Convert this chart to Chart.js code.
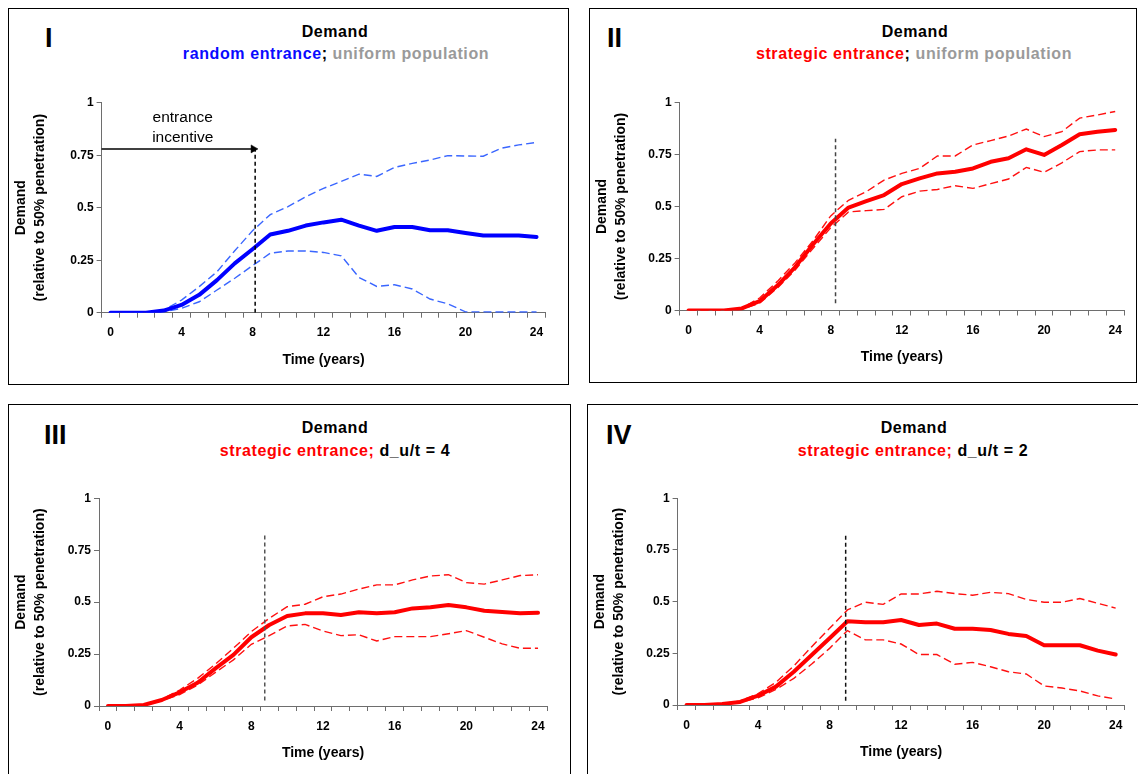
<!DOCTYPE html>
<html><head><meta charset="utf-8">
<script src="https://cdn.jsdelivr.net/npm/chart.js@4.4.0/dist/chart.umd.min.js"></script>
<style>
body{margin:0;width:1138px;height:774px;overflow:hidden;background:#fff;position:relative;font-family:"Liberation Sans",Arial,sans-serif;}
.box{position:absolute;border:1px solid #000;box-sizing:border-box;}
canvas{position:absolute;}
.num{position:absolute;font-weight:bold;font-size:27px;line-height:27px;white-space:nowrap;}
.t{position:absolute;font-weight:bold;font-size:16px;line-height:16px;white-space:nowrap;transform:translateX(-50%);letter-spacing:0.6px;}
.blue{color:#0a0aff}.gray{color:#9a9a9a}.red{color:#ff0000}.blk{color:#000}
</style></head><body>
<div class="box" style="left:8px;top:8px;width:561px;height:377px"></div>
<div class="box" style="left:589px;top:8px;width:548px;height:375px"></div>
<div class="box" style="left:8px;top:404px;width:563px;height:390px"></div>
<div class="box" style="left:587px;top:404px;width:570px;height:390px"></div>

<div class="num" style="left:45px;top:25px">I</div>
<div class="num" style="left:607px;top:25px">II</div>
<div class="num" style="left:44px;top:422px">III</div>
<div class="num" style="left:606px;top:422px">IV</div>

<div class="t" style="left:335px;top:24px">Demand</div>
<div class="t" style="left:336px;top:46px"><span class="blue">random entrance</span>; <span class="gray">uniform population</span></div>
<div class="t" style="left:915px;top:24px">Demand</div>
<div class="t" style="left:914px;top:46px"><span class="red">strategic entrance</span>; <span class="gray">uniform population</span></div>
<div class="t" style="left:335px;top:420px">Demand</div>
<div class="t" style="left:335px;top:443px"><span class="red">strategic entrance;</span> d_u/t = 4</div>
<div class="t" style="left:914px;top:420px">Demand</div>
<div class="t" style="left:913px;top:443px"><span class="red">strategic entrance;</span> d_u/t = 2</div>

<canvas id="c1" width="561" height="377" style="left:8px;top:8px"></canvas>
<canvas id="c2" width="548" height="375" style="left:589px;top:8px"></canvas>
<canvas id="c3" width="563" height="370" style="left:8px;top:404px"></canvas>
<canvas id="c4" width="551" height="370" style="left:587px;top:404px"></canvas>

<script>
// ---- data ----
const years = [0,1,2,3,4,5,6,7,8,9,10,11,12,13,14,15,16,17,18,19,20,21,22,23,24];
const xLabelYears = [0,4,8,12,16,20,24];
const yTicks = [0,0.25,0.5,0.75,1];
const yTickLabels = ['0','0.25','0.5','0.75','1'];

// Panel I: random entrance; uniform population
const p1Mean = [0,0,0,0.01,0.037,0.085,0.155,0.235,0.302,0.372,0.39,0.415,0.43,0.443,0.415,0.39,0.408,0.408,0.393,0.393,0.38,0.368,0.368,0.368,0.36];
const p1Hi   = [0,0,0,0.012,0.06,0.124,0.195,0.295,0.39,0.467,0.505,0.552,0.592,0.625,0.66,0.649,0.692,0.711,0.727,0.748,0.746,0.745,0.783,0.799,0.811];
const p1Lo   = [0,0,0,0.004,0.021,0.052,0.108,0.164,0.224,0.283,0.294,0.294,0.287,0.271,0.168,0.125,0.133,0.113,0.065,0.042,0.004,0.004,0.003,0.003,0.003];
// Panel II: strategic entrance; uniform population
const p2Mean = [0,0,0,0.01,0.045,0.12,0.209,0.317,0.418,0.495,0.526,0.555,0.608,0.635,0.659,0.667,0.683,0.715,0.732,0.775,0.748,0.796,0.847,0.859,0.868];
const p2Hi   = [0,0,0,0.012,0.06,0.14,0.23,0.335,0.455,0.53,0.571,0.627,0.659,0.683,0.743,0.743,0.796,0.817,0.839,0.872,0.836,0.86,0.925,0.94,0.957];
const p2Lo   = [0,0,0,0.006,0.035,0.108,0.195,0.298,0.398,0.474,0.48,0.486,0.547,0.574,0.582,0.60,0.587,0.61,0.632,0.688,0.664,0.71,0.764,0.772,0.772];
// Panel III: strategic entrance; d_u/t = 4
const p3Mean = [0,0,0.005,0.029,0.066,0.112,0.181,0.246,0.331,0.39,0.433,0.446,0.446,0.438,0.451,0.446,0.451,0.47,0.475,0.486,0.475,0.459,0.453,0.446,0.449];
const p3Hi   = [0,0,0.006,0.032,0.077,0.133,0.202,0.278,0.358,0.422,0.478,0.49,0.526,0.539,0.563,0.583,0.583,0.607,0.626,0.632,0.594,0.587,0.607,0.628,0.632];
const p3Lo   = [0,0,0.003,0.025,0.055,0.1,0.162,0.222,0.297,0.339,0.385,0.393,0.361,0.339,0.343,0.313,0.334,0.334,0.334,0.348,0.363,0.331,0.299,0.278,0.278];
// Panel IV: strategic entrance; d_u/t = 2
const p4Mean = [0,0,0.005,0.015,0.045,0.089,0.161,0.242,0.323,0.405,0.40,0.40,0.411,0.387,0.394,0.369,0.369,0.363,0.344,0.334,0.289,0.289,0.289,0.263,0.244];
const p4Hi   = [0,0,0.005,0.02,0.055,0.11,0.189,0.282,0.371,0.46,0.497,0.487,0.537,0.537,0.55,0.539,0.531,0.545,0.539,0.511,0.497,0.497,0.515,0.492,0.469];
const p4Lo   = [0,0,0.003,0.012,0.035,0.075,0.129,0.198,0.274,0.36,0.315,0.315,0.295,0.244,0.244,0.197,0.206,0.185,0.161,0.15,0.092,0.082,0.068,0.044,0.029];

// entrance-incentive markers (year, y from, y to)
const markerYears = [8.15, 8.27, 8.75, 8.9];
const markerFrom  = [0, 0.035, 0.026, 0.02];
const markerTo    = [0.78, 0.826, 0.823, 0.827];
const arrowLevel = 0.78, arrowEndYear = 8.05;
const incentiveText = ['entrance','incentive'];
const incentiveX = 4.07, incentiveY = [0.93, 0.835];

// ---- rendering ----
Chart.defaults.font.family = "'Liberation Sans', Arial, sans-serif";
Chart.defaults.color = '#000';
const AXIS = '#6e6e6e';
const XH = 60;

function pts(arr){ return arr.map((v,i)=>({x:years[i], y:v})); }

function makeChart(id, canvasBox, plot, series, color, dashColor, markerIdx, markerColor, extraDatasets, plugins){
  const datasets = [
    {data:[{x:markerYears[markerIdx],y:markerFrom[markerIdx]},{x:markerYears[markerIdx],y:markerTo[markerIdx]}],
     borderColor:markerColor, borderWidth:1.5, borderDash:[4,3], pointRadius:0},
    ...(extraDatasets||[]),
    {data:pts(series[0]), borderColor:color, borderWidth:4, pointRadius:0, borderCapStyle:'round', borderJoinStyle:'round'},
    {data:pts(series[1]), borderColor:dashColor, borderWidth:1.4, borderDash:[8,4], pointRadius:0},
    {data:pts(series[2]), borderColor:dashColor, borderWidth:1.4, borderDash:[8,4], pointRadius:0}
  ];
  const [cl, ct, cw, ch] = canvasBox;
  return new Chart(document.getElementById(id), {
    type:'line',
    data:{datasets},
    options:{
      responsive:false, animation:false, devicePixelRatio:1,
      layout:{padding:{left:0, top:plot.t-ct, right:cl+cw-plot.r, bottom:ct+ch-plot.b-XH}},
      plugins:{legend:{display:false}, tooltip:{enabled:false}},
      scales:{
        x:{type:'linear', min:-0.5, max:24.5,
           afterBuildTicks:s=>{ s.ticks = years.map(v=>({value:v})); },
           afterFit:s=>{ s.height = XH; },
           grid:{offset:true, drawOnChartArea:false, drawTicks:true, tickLength:5, color:AXIS, lineWidth:1},
           border:{display:true, color:AXIS, width:1},
           ticks:{autoSkip:false, maxRotation:0, padding:8, font:{size:12, weight:'bold'},
                  callback:v=> xLabelYears.includes(v) ? String(v) : ''},
           title:{display:true, text:'Time (years)', font:{size:14, weight:'bold', lineHeight:1.36}, padding:{top:0,bottom:3.5}}
        },
        y:{type:'linear', min:0, max:1,
           afterBuildTicks:s=>{ s.ticks = yTicks.map(v=>({value:v})); },
           afterFit:s=>{ s.width = plot.l - cl; },
           grid:{drawOnChartArea:false, drawTicks:true, tickLength:5, color:AXIS, lineWidth:1},
           border:{display:true, color:AXIS, width:1},
           ticks:{padding:3, font:{size:12, weight:'bold'}, callback:v=> yTickLabels[yTicks.indexOf(v)]},
           title:{display:true, text:['Demand','(relative to 50% penetration)'], font:{size:14, weight:'bold', lineHeight:1.36}, padding:{top:3.5,bottom:0}}
        }
      }
    },
    plugins: plugins||[]
  });
}

const incentivePlugin = {
  id:'incentive',
  afterDatasetsDraw(chart){
    const {ctx, scales:{x,y}} = chart;
    ctx.save();
    ctx.font = "15.5px 'Liberation Sans', Arial, sans-serif";
    ctx.fillStyle = '#000'; ctx.textAlign = 'center'; ctx.textBaseline = 'middle';
    incentiveText.forEach((line,i)=>ctx.fillText(line, x.getPixelForValue(incentiveX), y.getPixelForValue(incentiveY[i])));
    ctx.restore();
  }
};

const arrowDataset = {
  data:[{x:-0.5,y:arrowLevel},{x:arrowEndYear,y:arrowLevel}],
  borderColor:'#000', borderWidth:1.5, pointRadius:[0,4.6], pointStyle:'triangle', rotation:90,
  pointBackgroundColor:'#000', pointBorderColor:'#000', pointBorderWidth:0.5, clip:false
};

makeChart('c1', [8,8,561,377], {l:101.6,t:102.7,r:545.4,b:312.7}, [p1Mean,p1Hi,p1Lo], '#0000ff', '#3a66ff', 0, '#000', [arrowDataset], [incentivePlugin]);
makeChart('c2', [589,8,548,375], {l:679.6,t:102.5,r:1124.1,b:310.5}, [p2Mean,p2Hi,p2Lo], '#ff0000', '#ff1010', 1, '#444');
makeChart('c3', [8,404,563,370], {l:99,t:498.3,r:547,b:706}, [p3Mean,p3Hi,p3Lo], '#ff0000', '#ff1010', 2, '#555');
makeChart('c4', [587,404,551,370], {l:677.6,t:498.3,r:1124.6,b:705}, [p4Mean,p4Hi,p4Lo], '#ff0000', '#ff1010', 3, '#111');
</script>
</body></html>
